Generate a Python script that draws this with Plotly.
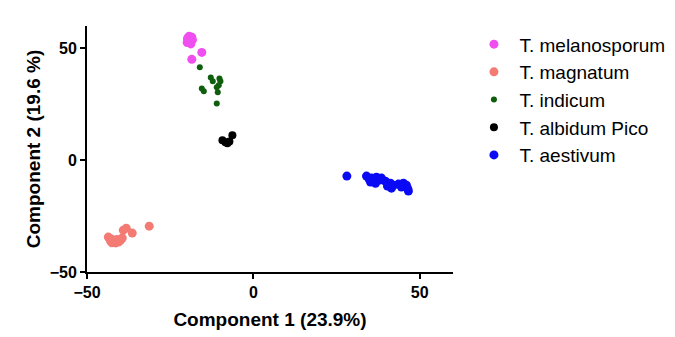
import plotly.graph_objects as go

# PCA scores per species: component 1 (x) and component 2 (y)
melanosporum_x = [-19.6, -19.1, -18.5, -19.9, -18.8, -19.3, -18.3, -19.8, -19.0, -15.5, -18.5]
melanosporum_y = [54.8, 53.6, 55.0, 52.6, 52.0, 55.4, 53.8, 54.3, 53.0, 48.2, 45.1]

magnatum_x = [-43.6, -42.9, -42.1, -41.4, -40.6, -39.4, -39.1, -38.2, -36.4, -31.3, -43.0, -41.0, -42.5, -40.0]
magnatum_y = [-34.4, -36.2, -35.7, -37.0, -36.6, -34.8, -31.3, -30.4, -32.6, -29.5, -35.0, -35.5, -36.9, -36.0]

indicum_x = [-16.1, -12.8, -12.2, -9.9, -10.4, -11.0, -15.5, -14.9, -10.7, -11.0, -10.2]
indicum_y = [41.5, 37.0, 35.3, 35.3, 33.5, 32.6, 32.1, 30.8, 30.4, 25.4, 36.5]

albidum_x = [-9.3, -7.8, -6.3, -7.2, -8.4]
albidum_y = [8.9, 7.6, 11.2, 8.4, 8.0]

aestivum_x = [28.1, 34.0, 35.5, 37.0, 38.5, 39.7, 41.2, 42.1, 43.6, 45.1, 46.0, 46.6, 41.5, 35.2, 36.7, 38.0, 44.5, 40.3, 34.8, 46.4]
aestivum_y = [-7.1, -7.1, -8.0, -7.6, -8.0, -9.4, -10.3, -11.2, -10.7, -10.3, -11.2, -13.8, -12.5, -9.8, -10.3, -8.9, -12.0, -11.6, -8.5, -12.7]

series = [
    ("T. melanosporum", melanosporum_x, melanosporum_y, "#F04FEF", 9),
    ("T. magnatum", magnatum_x, magnatum_y, "#F47A74", 9),
    ("T. indicum", indicum_x, indicum_y, "#0E5E0E", 6),
    ("T. albidum Pico", albidum_x, albidum_y, "#000000", 8),
    ("T. aestivum", aestivum_x, aestivum_y, "#0A0AF5", 9),
]

fig = go.Figure()
for name, xs, ys, color, size in series:
    fig.add_trace(go.Scatter(
        x=xs, y=ys, mode="markers", name=name,
        marker=dict(color=color, size=size, line=dict(width=0)),
    ))

axis_common = dict(
    showline=True, linecolor="black", linewidth=2,
    ticks="outside", ticklen=5, tickwidth=2, tickcolor="black",
    showgrid=False, zeroline=False,
    tickfont=dict(family="Liberation Sans", size=16, color="black", weight="bold"),
    title_font=dict(family="Liberation Sans", size=19, color="black", weight="bold"),
)

fig.update_xaxes(range=[-50, 60], tickvals=[-50, 0, 50],
                 title_text="Component 1 (23.9%)", title_standoff=12, **axis_common)
fig.update_yaxes(range=[-50, 60], tickvals=[-50, 0, 50],
                 title_text="Component 2 (19.6 %)", title_standoff=4, **axis_common)

fig.update_layout(
    width=675, height=337,
    margin=dict(l=87, r=222, t=26, b=65, autoexpand=False),
    plot_bgcolor="white", paper_bgcolor="white",
    legend=dict(
        xref="container", yref="container",
        x=0.694, y=0.925, xanchor="left", yanchor="top",
        font=dict(family="Liberation Sans", size=19, color="black"),
        itemsizing="trace", itemwidth=41, tracegroupgap=0,
        bgcolor="rgba(0,0,0,0)",
    ),
    showlegend=True,
)

fig.write_html("out.html")
